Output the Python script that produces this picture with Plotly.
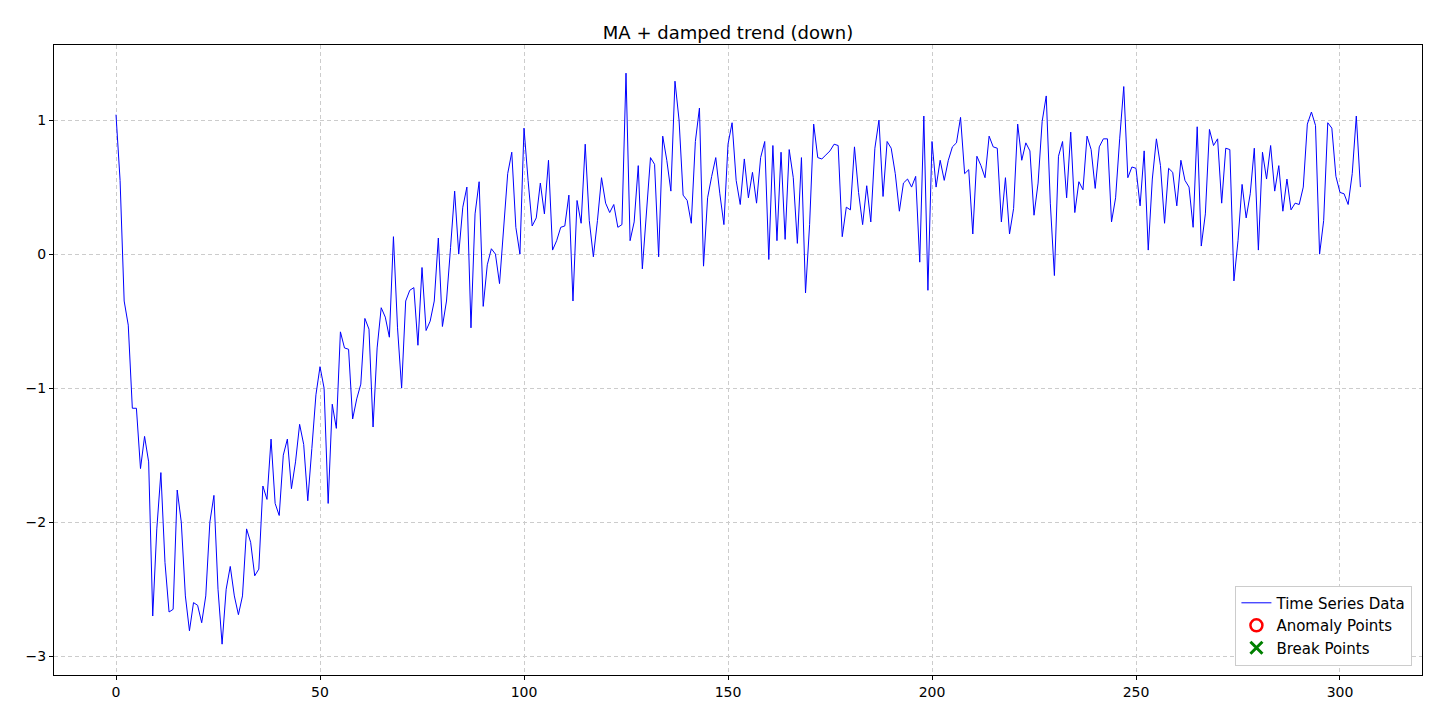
import plotly.graph_objects as go

# series values, index 0..305
values = [
    1.04, 0.55, -0.35, -0.53, -1.15, -1.15, -1.6, -1.36, -1.55, -2.7,
    -2.05, -1.63, -2.3, -2.67, -2.65, -1.76, -2.0, -2.55, -2.81, -2.6,
    -2.62, -2.75, -2.55, -2.0, -1.8, -2.5, -2.91, -2.5, -2.33, -2.55,
    -2.69, -2.55, -2.05, -2.15, -2.4, -2.35, -1.73, -1.83, -1.38, -1.86,
    -1.95, -1.5, -1.38, -1.75, -1.55, -1.27, -1.42, -1.84, -1.45, -1.05,
    -0.84, -1.0, -1.86, -1.12, -1.3, -0.58, -0.7, -0.71, -1.23, -1.08,
    -0.97, -0.48, -0.56, -1.29, -0.7, -0.4, -0.47, -0.62, 0.13, -0.55,
    -1.0, -0.35, -0.27, -0.25, -0.68, -0.1, -0.57, -0.5, -0.35, 0.12,
    -0.54, -0.35, 0.05, 0.47, 0.0, 0.35, 0.5, -0.55, 0.3, 0.54,
    -0.39, -0.08, 0.04, 0.0, -0.22, 0.2, 0.6, 0.76, 0.2, 0.0,
    0.94, 0.55, 0.21, 0.27, 0.53, 0.3, 0.7, 0.03, 0.1, 0.2,
    0.21, 0.44, -0.35, 0.4, 0.23, 0.82, 0.25, -0.02, 0.25, 0.57,
    0.38, 0.31, 0.37, 0.2, 0.22, 1.35, 0.1, 0.24, 0.66, -0.11,
    0.27, 0.72, 0.67, -0.02, 0.88, 0.7, 0.47, 1.29, 1.0, 0.44,
    0.4, 0.23, 0.84, 1.09, -0.09, 0.42, 0.58, 0.72, 0.45, 0.22,
    0.82, 0.98, 0.55, 0.37, 0.71, 0.42, 0.61, 0.38, 0.72, 0.84,
    -0.04, 0.81, 0.1, 0.76, 0.11, 0.78, 0.57, 0.08, 0.72, -0.29,
    0.22, 0.97, 0.72, 0.71, 0.74, 0.77, 0.82, 0.81, 0.13, 0.35,
    0.33, 0.8, 0.46, 0.22, 0.51, 0.24, 0.79, 1.0, 0.43, 0.84,
    0.79, 0.6, 0.32, 0.53, 0.56, 0.5, 0.58, -0.06, 1.03, -0.27,
    0.84, 0.5, 0.7, 0.55, 0.7, 0.8, 0.83, 1.02, 0.6, 0.63,
    0.15, 0.73, 0.66, 0.57, 0.88, 0.8, 0.79, 0.24, 0.57, 0.15,
    0.34, 0.97, 0.7, 0.83, 0.77, 0.29, 0.53, 0.99, 1.18, 0.38,
    -0.16, 0.73, 0.84, 0.42, 0.91, 0.31, 0.54, 0.48, 0.88, 0.78,
    0.49, 0.8, 0.86, 0.86, 0.24, 0.42, 0.86, 1.25, 0.57, 0.65,
    0.64, 0.36, 0.77, 0.03, 0.56, 0.86, 0.66, 0.23, 0.64, 0.61,
    0.36, 0.7, 0.55, 0.5, 0.2, 0.95, 0.06, 0.3, 0.93, 0.81,
    0.86, 0.38, 0.79, 0.78, -0.2, 0.1, 0.52, 0.27, 0.45, 0.79,
    0.03, 0.76, 0.56, 0.81, 0.47, 0.66, 0.32, 0.56, 0.33, 0.38,
    0.37, 0.5, 0.97, 1.06, 0.96, 0.0, 0.25, 0.98, 0.94, 0.58,
    0.46, 0.45, 0.37, 0.6, 1.03, 0.5,
]
index = list(range(len(values)))

fig = go.Figure()
fig.add_trace(go.Scatter(x=index, y=values, mode='lines', name='Time Series Data',
                         line=dict(color='blue', width=1)))
# no anomalies / breaks in this series, entries only for the legend
fig.add_trace(go.Scatter(x=[None], y=[None], mode='markers', name='Anomaly Points',
                         marker=dict(symbol='circle-open', color='red', size=12,
                                     line=dict(width=2.5))))
fig.add_trace(go.Scatter(x=[None], y=[None], mode='markers', name='Break Points',
                         marker=dict(symbol='x-thin-open', color='green', size=12,
                                     line=dict(width=3, color='green'))))

axis = dict(showline=True, linecolor='black', linewidth=1, mirror=True,
            ticks='outside', ticklen=4, tickcolor='black', zeroline=False,
            showgrid=True, gridcolor='#cccccc', griddash='4px,3px', gridwidth=1)
fig.update_layout(
    width=1440, height=720,
    title=dict(text='MA + damped trend (down)', x=0.5, y=0.975,
               font=dict(size=18, color='black')),
    font=dict(family='DejaVu Sans', size=14, color='black'),
    plot_bgcolor='white', paper_bgcolor='white',
    margin=dict(l=46, r=26, t=37, b=53),
    legend=dict(x=0.993, y=0.015, xanchor='right', yanchor='bottom',
                bordercolor='#cccccc', borderwidth=1, bgcolor='white',
                font=dict(size=15), tracegroupgap=4),
)
fig.update_xaxes(range=[-15.2, 320.1], tickvals=[0, 50, 100, 150, 200, 250, 300], **axis)
fig.update_yaxes(range=[-3.14, 1.56], tickvals=[-3, -2, -1, 0, 1], **axis)

fig.write_html("out.html")
